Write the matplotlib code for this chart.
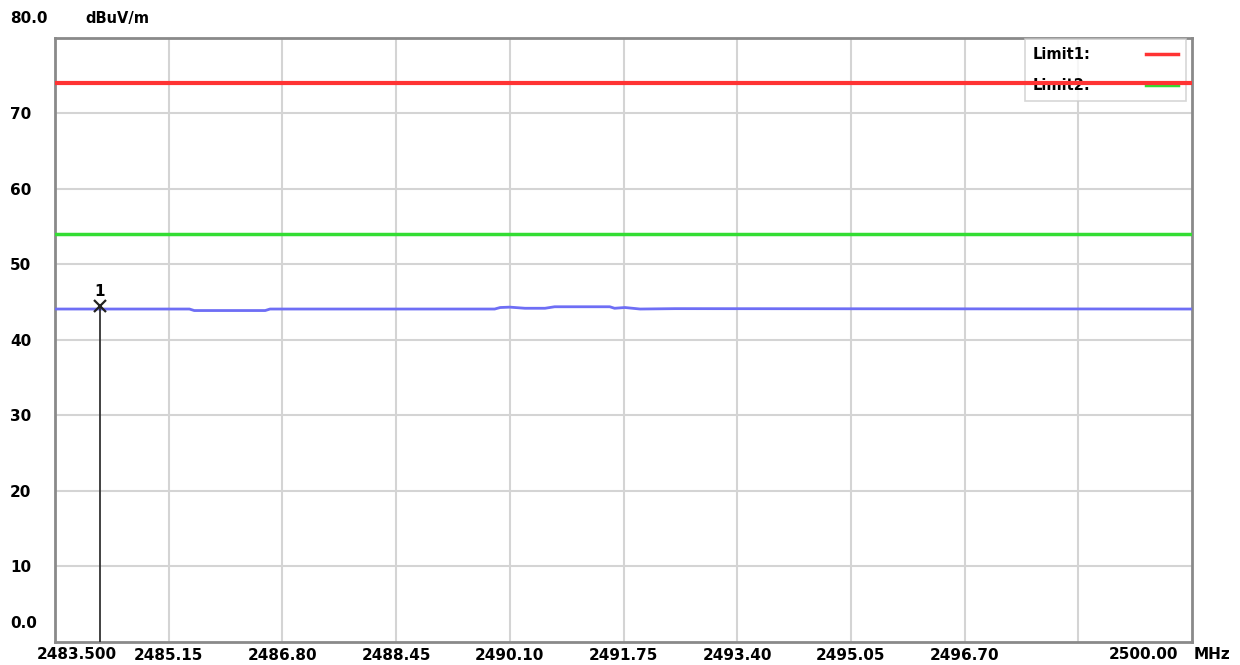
import matplotlib
matplotlib.use("Agg")

import numpy as np
import matplotlib.pyplot as plt
from matplotlib.lines import Line2D

# Axis / scale
f_start = 2483.5
f_stop = 2500.0
grid_freqs = [2485.15, 2486.80, 2488.45, 2490.10, 2491.75, 2493.40, 2495.05, 2496.70, 2498.35]
grid_labels = ["2485.15", "2486.80", "2488.45", "2490.10", "2491.75", "2493.40", "2495.05", "2496.70", ""]
y_ticks = [10, 20, 30, 40, 50, 60, 70]
y_labels = ["10", "20", "30", "40", "50", "60", "70"]

# Limits
limit1 = 74.0
limit2 = 54.0

# Measured trace (MHz, dBuV/m)
trace_freq = [2483.50, 2485.45, 2485.52, 2486.55, 2486.62, 2489.88, 2489.96, 2490.10,
              2490.32, 2490.61, 2490.75, 2491.55, 2491.62, 2491.77, 2491.99, 2492.50, 2500.00]
trace_level = [44.10, 44.10, 43.90, 43.90, 44.10, 44.10, 44.30, 44.35,
               44.20, 44.20, 44.40, 44.40, 44.20, 44.30, 44.10, 44.15, 44.10]

# Marker 1
mk_freq = 2484.15
mk_level = 44.5

fs = 11

fig = plt.figure(figsize=(12.4, 6.65), dpi=100)
ax = fig.add_axes([0.0444, 0.0346, 0.9169, 0.9083])

ax.set_xlim(f_start, f_stop)
ax.set_ylim(0, 80)

ax.plot(trace_freq, trace_level, color="#6e6ef5", lw=2.0, zorder=4)
ax.axhline(limit1, color="#ff3333", lw=3, zorder=5)
ax.axhline(limit2, color="#33dd33", lw=2.5, zorder=5)

ax.plot([mk_freq, mk_freq], [0, mk_level], color="#333333", lw=1.3, zorder=6)
ax.plot(mk_freq, mk_level, marker="x", color="#222222", ms=9, mew=1.6, zorder=7)
ax.text(mk_freq, mk_level + 0.9, "1", ha="center", va="bottom",
        fontsize=fs, fontweight="bold", zorder=7)

# grid
ax.set_xticks(grid_freqs)
ax.set_xticklabels(grid_labels)
ax.set_yticks(y_ticks)
ax.set_yticklabels(y_labels)
ax.grid(True, color="#d4d4d4", lw=1.5)
ax.tick_params(axis="both", length=0, labelsize=fs)
ax.tick_params(axis="x", pad=4)
ax.tick_params(axis="y", pad=32.4)
for lab in ax.get_yticklabels():
    lab.set_horizontalalignment("left")
for lab in ax.get_xticklabels() + ax.get_yticklabels():
    lab.set_fontweight("bold")

for sp in ax.spines.values():
    sp.set_color("#8a8a8a")
    sp.set_linewidth(2)

# extra axis labels
ax.text(-0.0395, 0.018, "0.0", transform=ax.transAxes, ha="left", va="bottom",
        fontsize=fs, fontweight="bold")
ax.text(-0.0395, 1.033, "80.0", transform=ax.transAxes, ha="left", va="center",
        fontsize=fs, fontweight="bold")
ax.text(0.0265, 1.033, "dBuV/m", transform=ax.transAxes, ha="left", va="center",
        fontsize=10.5, fontweight="bold")
ax.text(f_start + 0.32, -0.008, "2483.500", transform=ax.get_xaxis_transform(),
        ha="center", va="top", fontsize=fs, fontweight="bold")
ax.text(f_stop - 0.71, -0.008, "2500.00", transform=ax.get_xaxis_transform(),
        ha="center", va="top", fontsize=fs, fontweight="bold")
ax.text(1.0015, -0.008, "MHz", transform=ax.transAxes,
        ha="left", va="top", fontsize=fs, fontweight="bold")

# legend (drawn under the limit lines, like the analyzer screen)
handles = [Line2D([], [], color="#ff3333", lw=2.5),
           Line2D([], [], color="#33dd33", lw=2.5)]
leg = ax.legend(handles, ["Limit1:", "Limit2:"], loc="upper right",
                bbox_to_anchor=(0.9955, 1.0), markerfirst=False,
                frameon=True, fancybox=False,
                prop={"weight": "bold", "size": 10.5}, handlelength=2.2,
                handletextpad=3.8, borderaxespad=0.05, labelspacing=1.1,
                borderpad=0.55)
leg.get_frame().set_edgecolor("#cccccc")
leg.get_frame().set_linewidth(1.2)
leg.set_zorder(3)

fig.savefig("out.png", dpi=100)
